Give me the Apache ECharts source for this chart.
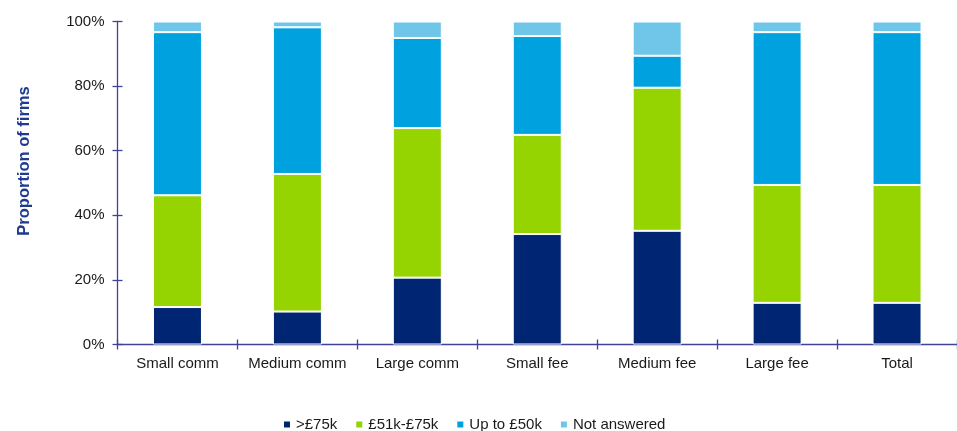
<!DOCTYPE html>
<html>
<head>
<meta charset="utf-8">
<script src="https://cdn.jsdelivr.net/npm/echarts@6/dist/echarts.min.js"></script>
<style>
  html, body { margin: 0; padding: 0; background: #ffffff; }
  #chart { width: 957px; height: 431px; }
</style>
</head>
<body>
<div id="chart"></div>
<script>
// Firm groups along the horizontal axis
const categories = ['Small comm', 'Medium comm', 'Large comm', 'Small fee', 'Medium fee', 'Large fee', 'Total'];

// Share of firms (%) in each salary band
const over75k      = [11.6, 10.2, 20.7, 34.2, 35.2, 12.9, 12.9];
const from51to75k  = [34.6, 42.6, 46.3, 30.7, 44.3, 36.5, 36.5];
const upTo50k      = [50.5, 45.4, 27.9, 30.6,  9.9, 47.3, 47.3];
const notAnswered  = [ 3.3,  1.8,  5.1,  4.5, 10.6,  3.3,  3.3];

const seriesNames = ['>£75k', '£51k-£75k', 'Up to £50k', 'Not answered'];
const seriesValues = [over75k, from51to75k, upTo50k, notAnswered];
const seriesColors = ['#002673', '#95D400', '#00A1DF', '#70C6E8'];

const yTicks = [0, 20, 40, 60, 80, 100];

const axisColor = '#41419C';
const font = 'Liberation Sans, Arial, sans-serif';

const chart = echarts.init(document.getElementById('chart'), null, { renderer: 'canvas' });

chart.setOption({
  animation: false,
  backgroundColor: '#ffffff',
  textStyle: { fontFamily: font },
  grid: { left: 117.5, top: 21.5, width: 844, height: 323, containLabel: false },
  legend: {
    left: 277,
    top: 412,
    itemWidth: 8,
    itemHeight: 8,
    itemGap: 17,
    icon: 'rect',
    textStyle: { fontFamily: font, fontSize: 15, color: '#1a1a1a' },
    data: seriesNames
  },
  xAxis: [
    {
      type: 'category',
      data: categories,
      position: 'bottom',
      axisLine: { show: true, lineStyle: { color: axisColor, width: 1.3 } },
      axisTick: { show: true, inside: false, length: 5, lineStyle: { color: axisColor, width: 1.3 } },
      axisLabel: { interval: 0, margin: 12, fontSize: 15, color: '#1a1a1a', fontFamily: font },
      splitLine: { show: false }
    },
    {
      // inner half of the crossing category ticks
      type: 'category',
      data: categories,
      position: 'bottom',
      axisLine: { show: false },
      axisTick: { show: true, inside: true, length: 5, lineStyle: { color: axisColor, width: 1.3 } },
      axisLabel: { show: false },
      splitLine: { show: false }
    }
  ],
  yAxis: [
    {
      type: 'value',
      min: yTicks[0],
      max: yTicks[yTicks.length - 1],
      interval: 20,
      axisLine: { show: true, lineStyle: { color: axisColor, width: 1.3 } },
      axisTick: { show: true, inside: false, length: 5, lineStyle: { color: axisColor, width: 1.3 } },
      axisLabel: { margin: 13, fontSize: 15, color: '#1a1a1a', fontFamily: font, formatter: '{value}%' },
      splitLine: { show: false }
    },
    {
      // inner half of the crossing value ticks
      type: 'value',
      position: 'left',
      min: yTicks[0],
      max: yTicks[yTicks.length - 1],
      interval: 20,
      axisLine: { show: false },
      axisTick: { show: true, inside: true, length: 5, lineStyle: { color: axisColor, width: 1.3 } },
      axisLabel: { show: false },
      splitLine: { show: false }
    }
  ],
  graphic: [
    {
      type: 'text',
      x: 24,
      y: 161,
      rotation: Math.PI / 2,
      style: {
        text: 'Proportion of firms',
        fill: '#1F3A8F',
        font: 'bold 16.5px ' + font,
        textAlign: 'center',
        textVerticalAlign: 'middle'
      }
    }
  ],
  series: seriesNames.map((name, i) => ({
    name: name,
    type: 'bar',
    stack: 'share',
    xAxisIndex: 0,
    yAxisIndex: 0,
    barWidth: 49,
    data: seriesValues[i],
    itemStyle: { color: seriesColors[i], borderColor: '#ffffff', borderWidth: 1 },
    emphasis: { disabled: true }
  }))
});
</script>
</body>
</html>
